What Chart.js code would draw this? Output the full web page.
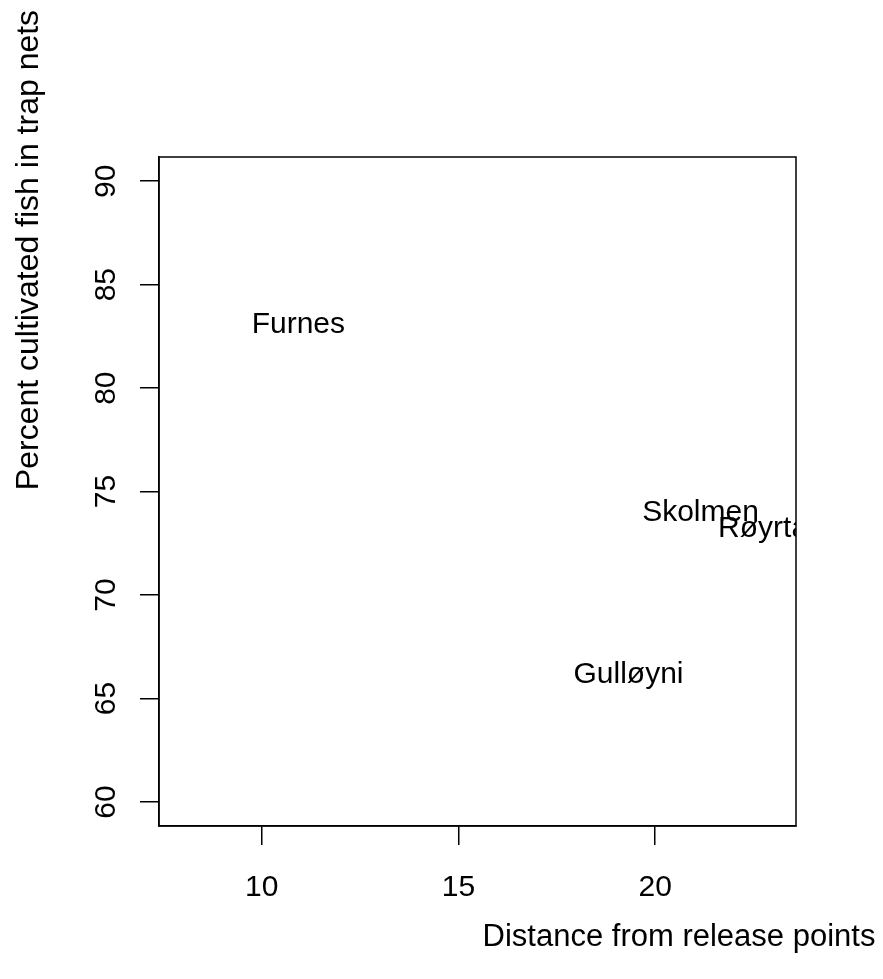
<!DOCTYPE html>
<html>
<head>
<meta charset="utf-8">
<script src="https://cdn.jsdelivr.net/npm/chart.js@4"></script>
<style>
  html, body { margin: 0; padding: 0; background: #fff; }
  #wrap { width: 883px; height: 979px; position: relative; }
</style>
</head>
<body>
<div id="wrap"><canvas id="fishChart"></canvas></div>
<script>
// sites and values
const sites = ['Furnes', 'Skolmen', 'Røyrta', 'Gulløyni'];
const distance = [10.93, 21.15, 22.74, 19.32];
const percent = [83.2, 74.1, 73.33, 66.27];

const xTicks = [10, 15, 20];
const yTicks = [60, 65, 70, 75, 80, 85, 90];
const xTitle = 'Distance from release points';
const yTitle = 'Percent cultivated fish in trap nets';

document.addEventListener("DOMContentLoaded", function() {
    const FONT = '"Liberation Sans", Arial, sans-serif';

    // box round the plot region + site names + y tick labels + axis titles
    const rPlot = {
        id: 'rPlot',
        afterDraw(chart) {
            const ctx = chart.ctx;
            const a = chart.chartArea;
            const xs = chart.scales.x;
            const ys = chart.scales.y;

            ctx.save();
            ctx.strokeStyle = '#000';
            ctx.lineWidth = 1.5;
            ctx.strokeRect(a.left, a.top, a.right - a.left, a.bottom - a.top);

            // site names, clipped to the plot region like text() in R
            ctx.save();
            ctx.beginPath();
            ctx.rect(a.left, a.top, a.right - a.left, a.bottom - a.top);
            ctx.clip();
            ctx.fillStyle = '#000';
            ctx.font = '30px ' + FONT;
            ctx.textAlign = 'center';
            ctx.textBaseline = 'alphabetic';
            for (let i = 0; i < sites.length; i++) {
                const px = xs.getPixelForValue(distance[i]);
                const py = ys.getPixelForValue(percent[i]);
                ctx.fillText(sites[i], px, py + 0.358 * 30);
            }
            ctx.restore();

            // y tick labels, written upwards
            ctx.fillStyle = '#000';
            ctx.font = '30px ' + FONT;
            ctx.textAlign = 'center';
            ctx.textBaseline = 'alphabetic';
            yTicks.forEach(function(v) {
                const py = ys.getPixelForValue(v);
                ctx.save();
                ctx.translate(115, py);
                ctx.rotate(-Math.PI / 2);
                ctx.fillText(String(v), 0, 0);
                ctx.restore();
            });

            // axis titles
            ctx.font = '31px ' + FONT;
            ctx.textAlign = 'center';
            ctx.fillText(xTitle, 679, 946);
            ctx.font = '32px ' + FONT;
            ctx.save();
            ctx.translate(38, 250);
            ctx.rotate(-Math.PI / 2);
            ctx.fillText(yTitle, 0, 0);
            ctx.restore();
            ctx.restore();
        }
    };

    const ctxFish = document.getElementById('fishChart').getContext('2d');
    const fishChart = new Chart(ctxFish, {
        type: 'scatter',
        data: {
            datasets: [{
                label: 'Sites',
                data: sites.map(function(s, i) { return { x: distance[i], y: percent[i] }; }),
                pointRadius: 0,
                pointHoverRadius: 0,
                showLine: false
            }]
        },
        options: {
            responsive: true,
            maintainAspectRatio: false,
            animation: false,
            events: [],
            layout: { padding: { top: 157, right: 87, left: 0, bottom: 0 } },
            plugins: {
                legend: { display: false },
                tooltip: { enabled: false }
            },
            scales: {
                x: {
                    type: 'linear',
                    min: 7.389,
                    max: 23.577,
                    afterFit: function(scale) { scale.height = 153; },
                    afterBuildTicks: function(scale) {
                        scale.ticks = xTicks.map(function(v) { return { value: v }; });
                    },
                    grid: {
                        drawOnChartArea: false,
                        drawTicks: true,
                        tickLength: 19,
                        color: '#000',
                        lineWidth: 1.5
                    },
                    border: { display: true, color: '#000', width: 1.5 },
                    ticks: {
                        color: '#000',
                        padding: 25,
                        maxRotation: 0,
                        font: { family: FONT, size: 30 }
                    }
                },
                y: {
                    type: 'linear',
                    min: 58.84,
                    max: 91.17,
                    afterFit: function(scale) { scale.width = 159; },
                    afterBuildTicks: function(scale) {
                        scale.ticks = yTicks.map(function(v) { return { value: v }; });
                    },
                    grid: {
                        drawOnChartArea: false,
                        drawTicks: true,
                        tickLength: 19,
                        color: '#000',
                        lineWidth: 1.5
                    },
                    border: { display: true, color: '#000', width: 1.5 },
                    ticks: { display: false }
                }
            }
        },
        plugins: [rPlot]
    });
});
</script>
</body>
</html>
